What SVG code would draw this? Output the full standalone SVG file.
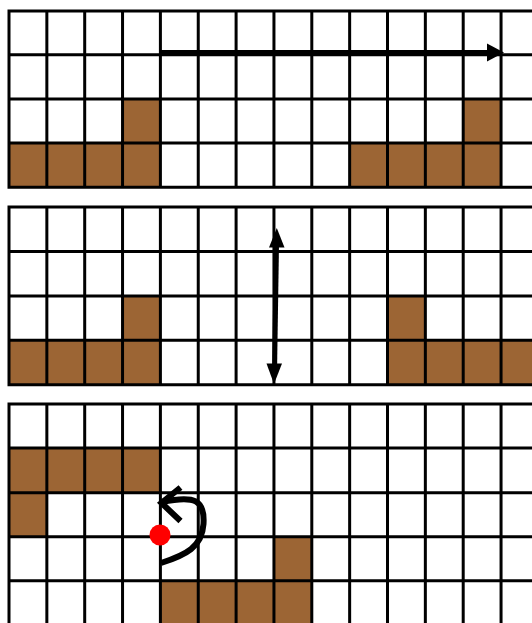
<svg xmlns="http://www.w3.org/2000/svg" width="532" height="623" viewBox="0 0 532 623">
<style>
.bg{fill:#ffffff}
.soil{fill:#9c6534}
.grid{stroke:#000;stroke-width:3;fill:none}
.arr{stroke:#000;stroke-width:5;fill:none}
.curl{stroke:#000;stroke-width:6;fill:none}
.head{fill:#000}
</style>
<rect class="bg" x="0" y="0" width="532" height="623"/>
<g id="panel1">
  <rect class="soil" x="122.55" y="98.8" width="37.85" height="44.4"/>
  <rect class="soil" x="9" y="143" width="151.4" height="44.3"/>
  <rect class="soil" x="463.2" y="98.8" width="37.85" height="44.4"/>
  <rect class="soil" x="349.65" y="143" width="151.4" height="44.3"/>
  <path class="grid" d="M9,11H532M9,54.8H532M9,98.9H532M9,143.1H532M9,187.3H532
  M9,9.5V188.8M46.85,9.5V188.8M84.7,9.5V188.8M122.55,9.5V188.8M160.4,9.5V188.8M198.25,9.5V188.8M236.1,9.5V188.8M273.95,9.5V188.8M311.8,9.5V188.8M349.65,9.5V188.8M387.5,9.5V188.8M425.35,9.5V188.8M463.2,9.5V188.8M501.05,9.5V188.8"/>
</g>
<g id="panel2">
  <rect class="soil" x="122.55" y="296" width="37.85" height="44.3"/>
  <rect class="soil" x="9" y="340.3" width="151.4" height="44.4"/>
  <rect class="soil" x="387.5" y="296" width="37.85" height="44.3"/>
  <rect class="soil" x="387.5" y="340.3" width="144.5" height="44.4"/>
  <path class="grid" d="M9,207H532M9,251.6H532M9,296H532M9,340.3H532M9,384.7H532
  M9,205.5V386.2M46.85,205.5V386.2M84.7,205.5V386.2M122.55,205.5V386.2M160.4,205.5V386.2M198.25,205.5V386.2M236.1,205.5V386.2M273.95,205.5V386.2M311.8,205.5V386.2M349.65,205.5V386.2M387.5,205.5V386.2M425.35,205.5V386.2M463.2,205.5V386.2M501.05,205.5V386.2"/>
</g>
<g id="panel3">
  <rect class="soil" x="9" y="448" width="151.4" height="44.7"/>
  <rect class="soil" x="9" y="492.7" width="37.85" height="44"/>
  <rect class="soil" x="273.95" y="536.7" width="37.85" height="44"/>
  <rect class="soil" x="160.4" y="580.7" width="151.4" height="42.3"/>
  <path class="grid" d="M9,404H532M9,448H532M9,492.7H532M9,536.7H532M9,580.7H532
  M9,402.5V623M46.85,402.5V623M84.7,402.5V623M122.55,402.5V623M160.4,402.5V623M198.25,402.5V623M236.1,402.5V623M273.95,402.5V623M311.8,402.5V623M349.65,402.5V623M387.5,402.5V623M425.35,402.5V623M463.2,402.5V623M501.05,402.5V623"/>
  <circle id="dot" cx="160" cy="535" r="10.5" fill="#ff0000"/>
</g>
<g id="connectors">
  <line class="arr" x1="160" y1="52.5" x2="490" y2="52.5" stroke-width="5.5"/>
  <polygon class="head" points="487,43.5 504,52.5 487,61.5"/>
  <line class="arr" x1="276.5" y1="244" x2="274.6" y2="367"/>
  <polygon class="head" points="269,247.5 276.8,228 284.5,247.5"/>
  <polygon class="head" points="266.5,363.5 274,384 282,363.5"/>
  <path class="curl" d="M162,502 C195,495 205,500 203.5,524 C202,547 186,555 161,563"/>
  <polyline class="curl" points="180.5,487.5 161.5,503 180.5,521" stroke-linejoin="miter"/>
</g>
</svg>
